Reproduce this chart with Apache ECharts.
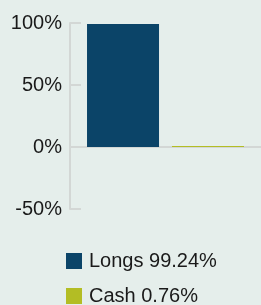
<!DOCTYPE html>
<html>
<head>
<meta charset="utf-8">
<script src="https://cdn.jsdelivr.net/npm/echarts@6/dist/echarts.min.js"></script>
<style>
  html, body { margin: 0; padding: 0; background: #e5eeeb; }
  #chart { width: 261px; height: 305px; }
</style>
</head>
<body>
<div id="chart"></div>
<script>
// holdings split
var names = ['Longs', 'Cash'];
var values = [99.24, 0.76];
var colors = ['#0b4468', '#b3bd24'];
var yTicks = [-50, 0, 50, 100];

var chart = echarts.init(document.getElementById('chart'));

var series = [];
var legends = [];
for (var i = 0; i < names.length; i++) {
  series.push({
    name: names[i],
    type: 'bar',
    barWidth: 72,
    barGap: '18%',
    itemStyle: { color: colors[i] },
    data: [values[i]]
  });
  // one legend per row so they stack
  legends.push({
    left: 66,
    top: 251 + i * 35,
    padding: 0,
    icon: 'rect',
    itemWidth: 16,
    itemHeight: 16,
    itemGap: 0,
    textStyle: { fontSize: 20, color: '#1a1a1a', fontFamily: 'Liberation Sans', padding: [0, 0, 0, 2] },
    formatter: function (n) {
      return n + ' ' + values[names.indexOf(n)].toFixed(2) + '%';
    },
    data: [names[i]]
  });
}

var option = {
  backgroundColor: '#e5eeeb',
  animation: false,
  textStyle: { fontFamily: 'Liberation Sans' },
  grid: { left: 70, right: -1, top: 23, height: 186 },
  legend: legends,
  xAxis: {
    type: 'category',
    data: [''],
    axisLine: { lineStyle: { color: '#d3d7d5', width: 2 } },
    axisTick: { show: false },
    axisLabel: { show: false }
  },
  yAxis: {
    type: 'value',
    min: yTicks[0],
    max: yTicks[yTicks.length - 1],
    interval: 50,
    splitLine: { show: false },
    axisLine: { show: true, lineStyle: { color: '#d3d7d5', width: 2 } },
    axisTick: { show: true, inside: true, length: 11, lineStyle: { color: '#d3d7d5', width: 2 } },
    axisLabel: { fontSize: 20, color: '#1a1a1a', margin: 8, formatter: '{value}%' }
  },
  series: series
};

chart.setOption(option);
</script>
</body>
</html>
